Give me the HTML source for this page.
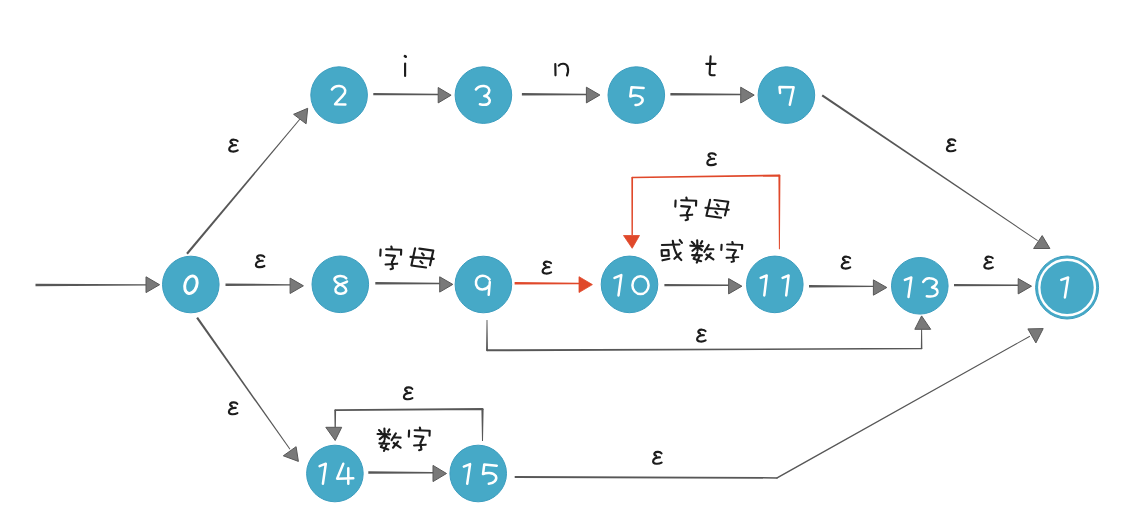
<!DOCTYPE html>
<html><head><meta charset="utf-8"><title>NFA</title>
<style>
html,body{margin:0;padding:0;background:#fff;width:1142px;height:528px;overflow:hidden;font-family:"Liberation Sans",sans-serif;}
svg{display:block;}
</style></head>
<body>
<svg width="1142" height="528" viewBox="0 0 1142 528">
<defs>
<g id="eps"><path d="M9.6,2.4 C8.2,0.6 4.2,0.4 2.8,1.9 C1.8,3.1 2.8,4.4 4.2,4.6 M8.0,6.4 C4.5,6.0 1.2,7.8 1.2,10.3 C1.2,13.3 6.5,13.4 9.7,11.6"/></g>
<g id="zi"><path d="M11.35,0.6 L11.75,2.2 M0.6,3.6 L0.3,9.6 M6.2,3.3 L21.2,3.8 L21,8.6 M6.2,9.1 L14.9,9.9 L11.9,15.9 L12.9,22.5 L10.6,23.2 M5.6,18.5 L17.2,17.7"/></g>
<g id="mu"><path d="M5.1,0.3 L1.4,17.5 L16,19.5 M9.4,0.6 L23.3,2.6 L20,17.2 M0.5,8.9 L23.7,10.9 M12,5.3 L13.7,7.3 M10.4,13.2 L12.4,15.2"/></g>
<g id="shu"><path d="M7.4,0.6 L7.75,11.1 M2,2.1 L4.5,4.6 M12.4,1.4 L11,3.9 M0.55,6 L13.1,6.4 M7,7.5 L2.7,11.1 M8.5,7.8 L12.1,10.3 M2.35,15.4 L12.1,15.7 M7.4,12.9 L3.8,19 L11.3,21.5 M9.5,16.8 L7,22.9 M18.9,5.3 L14.6,12.1 M16.7,9.3 L23.6,9.6 M21,13.6 L16,19.7 M16.7,15 L23.6,19.7"/></g>
<g id="huo"><path d="M0.9,5 L18.4,4.5 M11.8,0.9 Q13.5,14 20.3,20 M18.7,0 L20.9,2.8 M0.6,10.3 L0.9,15.9 L7.75,15.6 L7.4,10 Z M1.5,20.3 L8.4,18.75 M13.4,18.75 L19.6,12.8"/></g>
</defs>

<!-- edges -->
<path fill="#575757" d="M35.50,286.20 L146.00,285.60 L146.00,284.20 L35.50,283.80Z"/>
<path fill="#575757" d="M187.84,254.51 L300.38,119.32 L299.62,118.68 L186.16,253.09Z"/>
<path fill="#575757" d="M373.29,95.30 L438.20,95.20 L438.20,93.80 L373.31,92.90Z"/>
<path fill="#575757" d="M521.89,95.40 L586.40,95.20 L586.40,93.80 L521.91,93.00Z"/>
<path fill="#575757" d="M670.39,95.40 L740.70,95.20 L740.70,93.80 L670.41,93.00Z"/>
<path fill="#575757" d="M821.58,96.21 L1037.35,240.97 L1037.85,240.23 L822.82,94.39Z"/>
<path fill="#575757" d="M225.50,285.90 L290.10,285.60 L290.10,284.20 L225.50,283.50Z"/>
<path fill="#575757" d="M375.29,284.40 L439.70,284.20 L439.70,282.80 L375.31,282.00Z"/>
<path fill="#575757" d="M664.40,286.30 L728.60,286.00 L728.60,284.60 L664.40,283.90Z"/>
<path fill="#575757" d="M809.00,287.40 L873.40,287.10 L873.40,285.70 L809.00,285.00Z"/>
<path fill="#575757" d="M954.00,286.30 L1018.20,286.00 L1018.20,284.60 L954.00,283.90Z"/>
<path fill="#575757" d="M486.55,320.00 L486.05,350.30 L487.95,350.30 L487.45,320.00ZM487.00,351.25 L921.60,349.35 L921.60,347.85 L487.00,349.35ZM922.35,348.60 L922.10,329.30 L921.10,329.30 L920.85,348.60Z"/><circle cx="487" cy="350.3" r="0.95" fill="#575757"/><circle cx="921.6" cy="348.6" r="0.75" fill="#575757"/>
<path fill="#575757" d="M196.20,318.33 L289.59,449.59 L290.41,449.01 L198.00,317.07Z"/>
<path fill="#575757" d="M368.29,473.70 L433.00,473.50 L433.00,472.10 L368.31,471.30Z"/>
<path fill="#575757" d="M483.00,441.00 L483.60,409.00 L481.40,409.00 L482.00,441.00ZM482.49,407.90 L335.19,409.30 L335.21,411.10 L482.51,410.10ZM334.30,410.20 L334.55,427.30 L335.85,427.30 L336.10,410.20Z"/><circle cx="482.5" cy="409" r="1.10" fill="#575757"/><circle cx="335.2" cy="410.2" r="0.90" fill="#575757"/>
<path fill="#575757" d="M514.70,478.00 L777.10,478.66 L777.10,477.14 L514.70,476.00ZM777.47,478.57 L1030.14,336.64 L1029.66,335.76 L776.73,477.23Z"/><circle cx="777.1" cy="477.9" r="0.76" fill="#575757"/>
<path fill="#e0482a" d="M514.60,284.50 L579.00,284.30 L579.00,282.70 L514.60,282.10Z"/>
<path fill="#e0482a" d="M779.90,249.30 L780.40,175.40 L778.40,175.40 L778.90,249.30ZM779.39,174.40 L632.19,176.65 L632.21,178.35 L779.41,176.40ZM631.35,177.50 L631.50,235.00 L632.90,235.00 L633.05,177.50Z"/><circle cx="779.4" cy="175.4" r="1.00" fill="#e0482a"/><circle cx="632.2" cy="177.5" r="0.85" fill="#e0482a"/>
<!-- arrowheads -->
<g fill="#797979" stroke="#585858" stroke-width="1" stroke-linejoin="round">
  <path d="M159.6,284.7 L146,276.8 L146,292.6 Z"/>
  <path d="M307.7,108.3 L293.6,114.3 L306.1,123.8 Z"/>
  <path d="M451.1,95.2 L438.2,87.5 L438.2,102.9 Z"/>
  <path d="M599.9,95 L586.4,87.2 L586.4,102.9 Z"/>
  <path d="M754.2,95.1 L740.7,87.2 L740.7,103 Z"/>
  <path d="M1042.2,235.6 L1033.6,248.5 L1049.9,248.5 Z"/>
  <path d="M303.4,285.8 L290.1,278.1 L290.1,293.5 Z"/>
  <path d="M452.8,284.4 L439.7,276.8 L439.7,292.1 Z"/>
  <path d="M741.9,286.2 L728.6,278.6 L728.6,293.9 Z"/>
  <path d="M886.8,287.5 L873.4,279.9 L873.4,295.2 Z"/>
  <path d="M1031.5,286.2 L1018.2,278.6 L1018.2,293.9 Z"/>
  <path d="M921.6,315.9 L914.8,329.3 L930.7,329.3 Z"/>
  <path d="M283.3,455.8 L296.1,446.7 L298.4,461.4 Z"/>
  <path d="M446.5,473.5 L433,465.4 L433,481.6 Z"/>
  <path d="M335.2,440.5 L325.8,427.3 L341.7,427.3 Z"/>
  <path d="M1027.9,328.9 L1043.2,328.6 L1035.9,342.9 Z"/>
</g>
<g fill="#e0482a" stroke="#e0482a" stroke-width="0.8" stroke-linejoin="round">
  <path d="M592.4,284.6 L579,276.7 L579,292.5 Z"/>
  <path d="M632.2,248.3 L623.5,235.5 L639.5,235.5 Z"/>
</g>

<!-- nodes -->
<g fill="#46a9c7" stroke="#3b9dbf" stroke-width="1">
  <circle cx="190.8" cy="284.5" r="28.3"/>
  <circle cx="339.1" cy="95.1" r="28.3"/>
  <circle cx="483.4" cy="95.1" r="28.3"/>
  <circle cx="636.3" cy="95.1" r="28.3"/>
  <circle cx="786.4" cy="95.1" r="28.3"/>
  <circle cx="340.3" cy="284.3" r="28.3"/>
  <circle cx="483.4" cy="284.5" r="28.3"/>
  <circle cx="629.5" cy="284.4" r="28.3"/>
  <circle cx="774.8" cy="284.4" r="28.3"/>
  <circle cx="919.8" cy="285.8" r="28.3"/>
  <circle cx="1067.1" cy="287.5" r="31.5"/>
  <circle cx="334.9" cy="473.5" r="28.3"/>
  <circle cx="478.2" cy="473.5" r="28.3"/>
</g>
<circle cx="1067.1" cy="287.5" r="27.8" fill="none" stroke="#fff" stroke-width="2.4"/>

<!-- digits -->
<g fill="none" stroke="#fff" stroke-width="2.5" stroke-linecap="round" stroke-linejoin="round">
  <ellipse cx="190.9" cy="284.7" rx="5.9" ry="9.0" stroke-width="3" transform="rotate(18 190.9 284.7)"/>
  <path d="M331.9,89.5 C334,86.5 337,85.8 339.5,86 C343.5,86.3 346,89 345,92.5 C344,95.5 338,100 335.1,104.2 L345.4,104.5"/>
  <path d="M475.9,89.5 C478,86.5 481,85.8 484,86 C488,86.3 490,89 489,92 C488,94.5 485.5,95.8 484.3,96 C488,96.5 490.5,99 489.5,102 C488.5,104.8 484,105.2 479.9,104.3"/>
  <path d="M643.6,88 L631.5,87.3 L630.3,96.5 C634,95 640,95 642.3,98.5 C644,102 639,105.5 635.5,105"/>
  <path d="M780.1,93 L779.5,87.1 L793.6,87.2 L789.8,104.8"/>
  <path transform="translate(340.5 284.8) scale(0.97 0.91) translate(-340.5 -284.8)" vector-effect="non-scaling-stroke" d="M346.4,277.7 C344,274.5 337,274 334.6,277.5 C333,280.5 338,283.5 341,285 C346,287.5 347.5,290.5 345.5,293 C343,295.5 337,295 335.5,292 C334,289 337,285.5 341,284 C344,282.8 346.5,282 347.2,281.2"/>
  <path d="M489.6,279.5 C487.5,276 483,275 479.5,276.5 C475.5,278.5 474.8,284 477.5,287.5 C480.5,290.5 486.5,290 489.3,285.5 M489.8,282 L488.7,294.8"/>
  <path d="M614.5,277.9 L621.3,275.1 L618.5,295.4"/>
  <ellipse cx="640.5" cy="285.2" rx="8.1" ry="8.9"/>
  <path d="M760.7,277.9 L766.7,275.5 L764.3,295.4 M782.6,277.9 L788.6,275.5 L786.2,295.4"/>
  <path d="M904.9,279.9 L911.3,277.5 L908.5,297"/>
  <path d="M923.2,281.9 C925,279 928,278 930,278.3 C935,278.7 937.5,281 936.5,283.5 C935.5,286 933,287 932,287.4 C936,288 938,290 937.5,292.5 C936.5,296 932,297 926.8,296.2"/>
  <path d="M1061.3,279.9 L1068.1,277.5 L1064.9,297.4"/>
  <path d="M319.6,466.2 L325.8,463.7 L322.9,483.7 M343.3,463.7 L337.1,478.7 L353.3,478.3 M348.3,468.3 L348.3,483.7"/>
  <path d="M463.8,466.6 L470.1,464.1 L467.2,483.7 M496.8,465.75 L484.3,464.5 L483,474.1 C486,472.5 493,472 495.8,476 C497.5,479.5 494,483.5 488.8,483.7"/>
</g>

<!-- labels -->
<g fill="none" stroke="#1c1c1c" stroke-width="2.15" stroke-linecap="round" stroke-linejoin="round">
  <!-- i -->
  <path d="M405.1,63.5 L405.1,76"/>
  <path d="M404.9,56.2 L405.7,56.7" stroke-width="2.6"/>
  <!-- n -->
  <path d="M555.3,64 L555.5,75.3 M558.8,65.6 C561,63 566,63 567.5,66.5 C568.5,69.5 568,73 567,75.5"/>
  <!-- t -->
  <path d="M710.6,56.3 L709.6,73.5 C709.6,75.2 711,75.4 714.6,75.2 M706.3,63.8 L715.6,63.8"/>
  <!-- epsilons -->
  <use href="#eps" x="228" y="138.8"/>
  <use href="#eps" x="254.7" y="254.4"/>
  <use href="#eps" x="945.7" y="138.5"/>
  <use href="#eps" x="541.4" y="260.8"/>
  <use href="#eps" x="706.1" y="152.4"/>
  <use href="#eps" x="840.5" y="255.8"/>
  <use href="#eps" x="983.1" y="255.8"/>
  <use href="#eps" x="695.9" y="328.8"/>
  <use href="#eps" x="227.7" y="401.5"/>
  <use href="#eps" x="402.7" y="386.5"/>
  <use href="#eps" x="651.9" y="451"/>
  <!-- chinese -->
  <use href="#zi" x="380" y="246"/>
  <use href="#mu" x="410" y="248"/>
  <use href="#zi" x="675" y="197"/>
  <use href="#mu" transform="translate(705 199.4) scale(1 0.94)"/>
  <use href="#huo" x="661" y="240"/>
  <use href="#shu" x="689.8" y="239.7"/>
  <use href="#zi" transform="translate(721 241.5) scale(1 0.88)"/>
  <use href="#shu" x="377" y="428"/>
  <use href="#zi" x="408.5" y="427"/>
</g>
</svg>
</body></html>
